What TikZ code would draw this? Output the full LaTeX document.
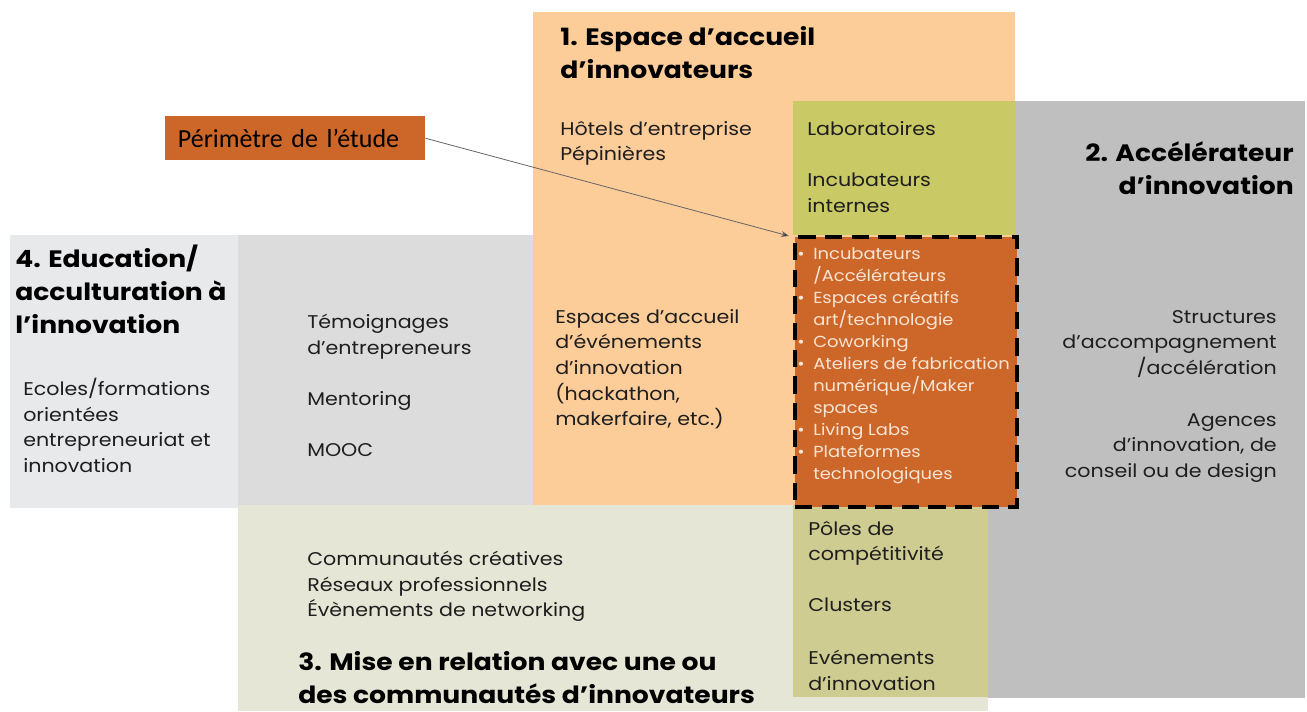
\documentclass[tikz,border=0pt]{standalone}
\usepackage{fontspec}
\setmainfont{Poppins}[FakeStretch=1.12]
\newfontfamily\calib{Carlito}
\usetikzlibrary{arrows.meta}
\definecolor{peach}{RGB}{252,204,153}
\definecolor{oliveA}{RGB}{201,201,101}
\definecolor{oliveB}{RGB}{207,204,146}
\definecolor{rust}{RGB}{204,102,41}
\definecolor{palegreen}{RGB}{230,230,214}
\definecolor{greyR}{RGB}{191,191,191}
\definecolor{greyL}{RGB}{232,233,235}
\definecolor{greyM}{RGB}{220,220,220}
\definecolor{txt}{RGB}{30,30,30}
\definecolor{bultxt}{RGB}{250,228,212}
\tikzset{
  body/.style={inner sep=0, text=txt, font=\fontsize{13.8}{19.2}\selectfont},
  ttl/.style={inner sep=0, text=black, font=\fontsize{17.8}{24.8}\selectfont\bfseries},
  bul/.style={inner sep=0, text=bultxt, font=\fontsize{12}{16.5}\selectfont, align=left},
}
\newcommand{\bitem}{\makebox[12pt][l]{\textbullet}}
\newcommand{\bskip}{\hspace*{12pt}}
\begin{document}
\begin{tikzpicture}[x=0.75pt,y=-0.75pt]
\useasboundingbox[fill=white] (0,0) rectangle (1307,711);
% areas
\fill[greyR] (988,101) rectangle (1305,698);
\fill[greyL] (10,235) rectangle (238,508);
\fill[greyM] (238,235) rectangle (533,505);
\fill[palegreen] (238,505) rectangle (988,711);
\fill[peach] (533,12) rectangle (1015,505);
\fill[oliveA] (793,101) rectangle (1015,235);
\fill[oliveB] (793,505) rectangle (988,697);
\node[fill=rust, draw=black, line width=3pt, dash pattern=on 13pt off 7pt, minimum width=166.5pt, minimum height=202.5pt, inner sep=0, anchor=north west] (perim) at (793,235) {};
% titles
\node[ttl, anchor=north west, align=left] (t1) at (560,26) {1. Espace d’accueil\\d’innovateurs};
\node[ttl, anchor=north east, align=right] (t2) at (1294,141) {2. Accélérateur\\d’innovation};
\node[ttl, anchor=north west, align=left] (t3) at (298,651) {3. Mise en relation avec une ou\\des communautés d’innovateurs};
\node[ttl, anchor=north west, align=left] (t4) at (15,245) {4. Education/\\acculturation à\\l’innovation};
% body texts
\node[body, anchor=north west, align=left] (hotels) at (560,121) {Hôtels d’entreprise\\Pépinières};
\node[body, anchor=north west, align=left] (labo) at (807,121) {Laboratoires};
\node[body, anchor=north west, align=left] (incint) at (807,173) {Incubateurs\\internes};
\node[body, anchor=north east, align=right] (struct) at (1277,310) {Structures\\d’accompagnement\\/accélération};
\node[body, anchor=north east, align=right] (agences) at (1277,413) {Agences\\d’innovation, de\\conseil ou de design};
\node[body, anchor=north west, align=left] (ecoles) at (23,378) {Ecoles/formations\\orientées\\entrepreneuriat et\\innovation};
\node[body, anchor=north west, align=left] (temoi) at (307,314) {Témoignages\\d’entrepreneurs};
\node[body, anchor=north west, align=left] (mento) at (307,391) {Mentoring};
\node[body, anchor=north west, align=left] (mooc) at (307,443) {MOOC};
\node[body, anchor=north west, align=left] (evts) at (555,309) {Espaces d’accueil\\d’événements\\d’innovation\\(hackathon,\\makerfaire, etc.)};
\node[body, anchor=north west, align=left] (commu) at (307,551) {Communautés créatives\\Réseaux professionnels\\Évènements de networking};
\node[body, anchor=north west, align=left] (poles) at (808,521) {Pôles de\\compétitivité};
\node[body, anchor=north west, align=left] (clust) at (808,598) {Clusters};
\node[body, anchor=north west, align=left] (evinno) at (808,650) {Evénements\\d’innovation};
% bullets
\node[bul, anchor=north west] (bl) at (797,247) {%
\bitem Incubateurs\\
\bskip /Accélérateurs\\
\bitem Espaces créatifs\\
\bskip art/technologie\\
\bitem Coworking\\
\bitem Ateliers de fabrication\\
\bskip numérique/Maker\\
\bskip spaces\\
\bitem Living Labs\\
\bitem Plateformes\\
\bskip technologiques};
% perimetre label
\node[fill=rust, inner sep=0, text width=195pt, minimum height=33pt, align=left, anchor=north west, text=black, font=\calib\fontsize{19.5}{21}\selectfont] (plabel) at (165,116) {\hspace*{9.5pt}Périmètre de l’étude};
\coordinate (tip) at (789,236);
\draw[draw=black!60, line width=0.6pt, -{Stealth[length=6pt,width=4.5pt,fill=black]}] (plabel.east) -- (tip);
\end{tikzpicture}
\end{document}
